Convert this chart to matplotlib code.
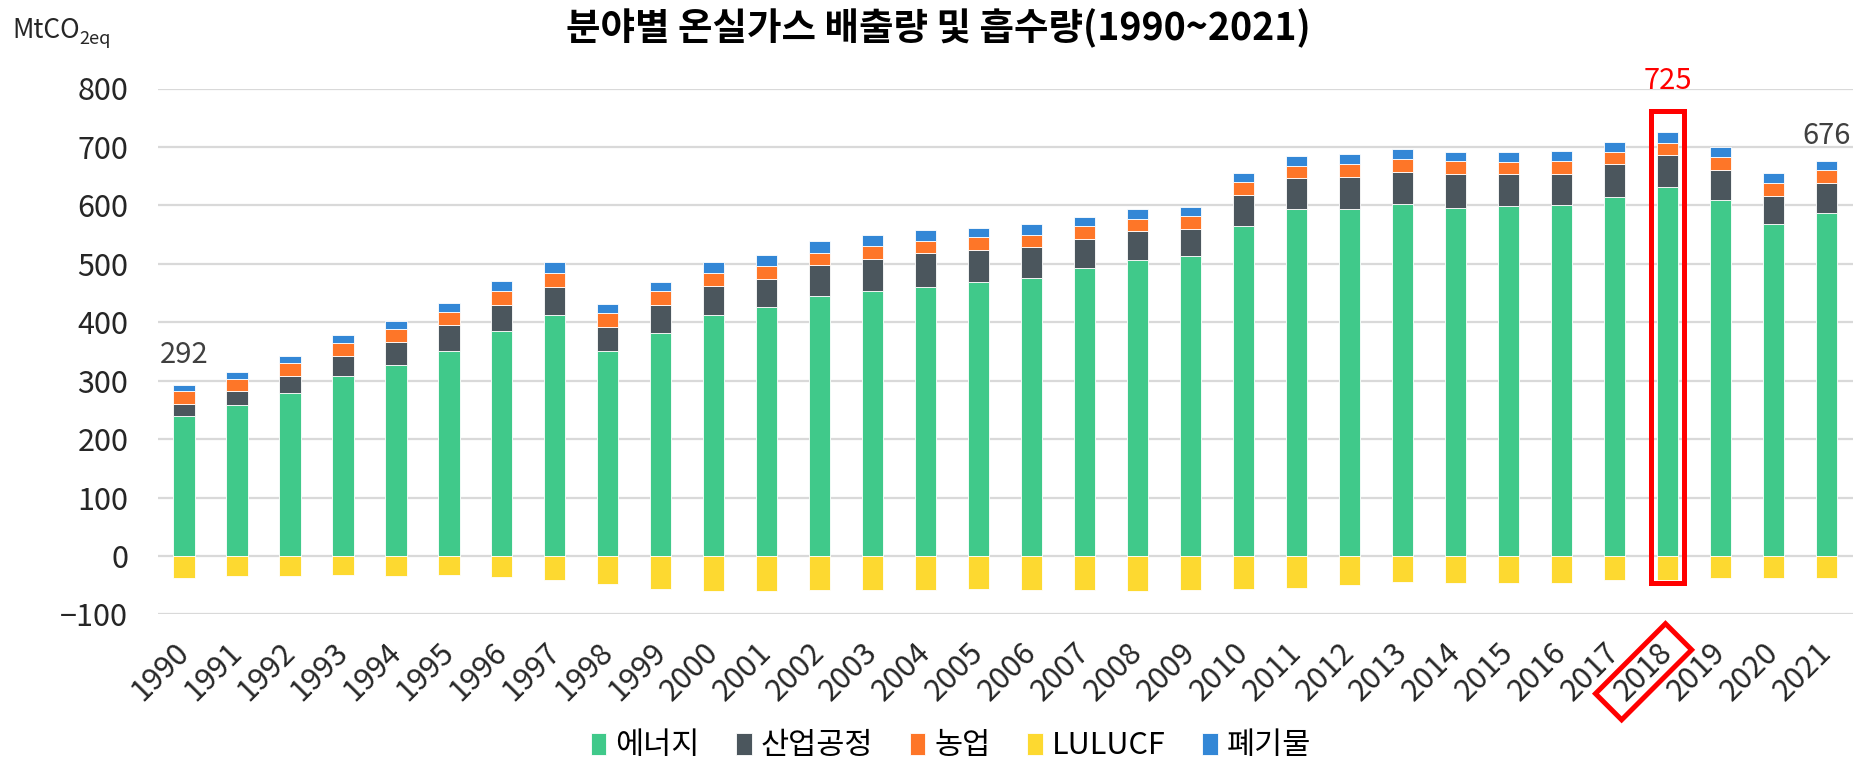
import numpy as np
import matplotlib
matplotlib.use('Agg')
import matplotlib.pyplot as plt
from matplotlib.patches import Rectangle

plt.rcParams['font.family'] = ['Noto Sans CJK KR', 'DejaVu Sans']

years = list(range(1990, 2022))
energy = [240.0, 257.7, 278.3, 308.0, 327.4, 351.4, 385.1, 412.0, 351.4, 382.3, 412.0, 425.7,
          445.1, 453.1, 460.0, 469.1, 474.9, 492.6, 505.7, 512.6, 564.6, 593.7, 594.6, 602.9,
          596.0, 598.9, 600.6, 614.3, 630.9, 609.7, 568.0, 587.4]
ippu = [20.0, 24.0, 29.7, 33.7, 38.9, 43.5, 44.6, 49.1, 40.6, 47.4, 50.3, 48.9,
        53.2, 55.5, 58.3, 54.3, 53.7, 50.3, 50.9, 47.4, 52.5, 52.6, 54.5, 54.8,
        57.1, 54.2, 53.7, 56.6, 55.4, 51.4, 48.6, 51.5]
agri = [22.0, 21.3, 21.7, 22.9, 22.3, 23.4, 24.0, 23.5, 23.4, 22.9, 21.7, 21.7,
        20.6, 21.1, 21.1, 21.7, 21.1, 21.7, 20.5, 21.7, 22.3, 21.7, 22.3, 21.2,
        22.3, 21.2, 21.1, 21.1, 21.1, 21.2, 21.1, 21.7]
waste = [10.0, 12.4, 13.2, 14.3, 14.3, 14.8, 16.6, 17.7, 15.5, 16.5, 18.3, 19.4,
         19.4, 18.9, 17.7, 16.6, 17.7, 15.4, 16.6, 16.0, 16.0, 16.0, 16.0, 17.1,
         15.5, 17.1, 17.2, 17.1, 17.7, 17.1, 17.2, 15.6]
lulucf = [-37.7, -34.3, -33.7, -32.0, -34.3, -33.1, -36.0, -40.6, -48.6, -57.1, -60.0, -59.5,
          -57.7, -57.7, -58.9, -56.6, -57.7, -58.3, -59.4, -58.9, -56.0, -55.4, -49.1, -45.1,
          -46.3, -46.9, -46.9, -41.7, -40.6, -37.7, -37.7, -37.7]
labelled = {1990: '#404040', 2018: 'red', 2021: '#404040'}
highlight = 2018

c_energy = '#40c98a'
c_ippu = '#4b565d'
c_agri = '#fe7628'
c_lulucf = '#fdd930'
c_waste = '#3387d6'

x = np.arange(len(years))
energy = np.array(energy)
ippu = np.array(ippu)
agri = np.array(agri)
waste = np.array(waste)
total = energy + ippu + agri + waste

fig = plt.figure(figsize=(18.62, 7.61), dpi=100)
ax = fig.add_axes([157.5 / 1862, 1 - 614.4 / 761, (1853 - 157.5) / 1862, (614.4 - 88.5) / 761])

w = 0.4
kw = dict(width=w, edgecolor='white', linewidth=0.6, zorder=3)
ax.bar(x, energy, color=c_energy, label='에너지', **kw)
ax.bar(x, ippu, bottom=energy, color=c_ippu, label='산업공정', **kw)
ax.bar(x, agri, bottom=energy + ippu, color=c_agri, label='농업', **kw)
ax.bar(x, lulucf, color=c_lulucf, label='LULUCF', **kw)
ax.bar(x, waste, bottom=energy + ippu + agri, color=c_waste, label='폐기물', **kw)

ax.set_xlim(-0.5, len(years) - 0.5)
ax.set_ylim(-100, 800)
ax.set_yticks(range(-100, 801, 100))
ax.set_xticks(x)
ax.set_xticklabels([str(y) for y in years], rotation=45, ha='right', va='center',
                   rotation_mode='anchor', fontsize=22, color='#262626', fontweight='light')
for lab in ax.get_yticklabels():
    lab.set_fontweight('light')
ax.tick_params(axis='y', length=0, pad=21, labelsize=22, labelcolor='#262626')
ax.tick_params(axis='x', length=0, pad=24)
ax.grid(axis='y', color='#d9d9d9', linewidth=1.6, zorder=0)
ax.set_axisbelow(True)
for s in ax.spines.values():
    s.set_visible(False)

# total labels
offsets = {1990: 22, 2018: 37, 2021: 18}
for yr, col in labelled.items():
    i = years.index(yr)
    ax.annotate(f'{total[i]:.0f}', (x[i], total[i]), xytext=(0, offsets[yr]),
                textcoords='offset points', ha='center', va='center',
                fontsize=21, color=col, fontweight='light')

# highlight box around the 2018 bar
hi = years.index(highlight)
ax.add_patch(Rectangle((x[hi] - 0.315, -46), 0.63, 807, fill=False,
                       edgecolor='red', linewidth=3.6, zorder=5, clip_on=False))

fig.suptitle('분야별 온실가스 배출량 및 흡수량(1990~2021)', x=0.504, y=0.962,
             fontsize=27, fontweight='bold', va='center')

t = fig.text(12 / 1862, 1 - 30 / 761, 'MtCO', fontsize=19, va='center', color='#262626',
             fontweight='light')
fig.canvas.draw()
bb = t.get_window_extent()
fig.text(bb.x1 / 1862, 1 - 39 / 761, '2eq', fontsize=13, va='center', color='#262626',
         fontweight='light')

ax.legend(loc='center', bbox_to_anchor=(951 / 1862, 1 - 746 / 761),
          bbox_transform=fig.transFigure, ncol=5, frameon=False, fontsize=22,
          handlelength=0.5, handleheight=0.7, handletextpad=0.3, columnspacing=1.2)

# red box around the 2018 tick label
fig.canvas.draw()
lab = ax.get_xticklabels()[hi]
lb = lab.get_window_extent()
cx, cy = (lb.x0 + lb.x1) / 2, (lb.y0 + lb.y1) / 2
bw, bh = 99, 37
fig.patches.append(Rectangle((cx - bw / 2, cy - bh / 2), bw, bh, angle=45,
                             rotation_point='center', fill=False, edgecolor='red',
                             linewidth=3.6, transform=None, figure=fig))

fig.savefig('out.png', dpi=100)
